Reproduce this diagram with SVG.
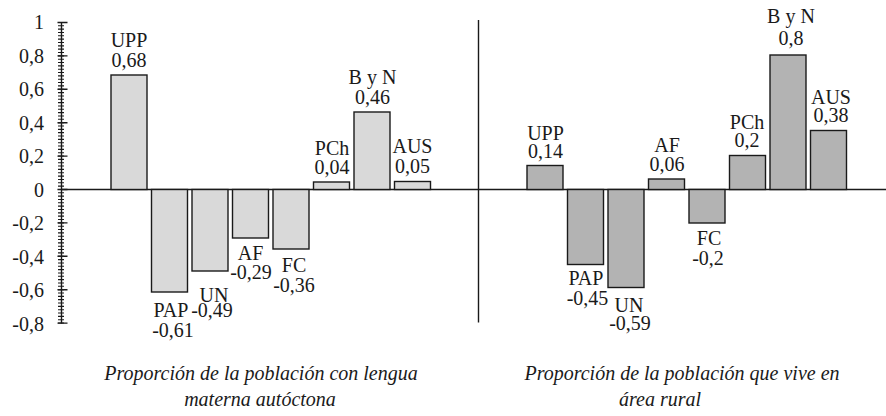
<svg xmlns="http://www.w3.org/2000/svg" width="886" height="416" viewBox="0 0 886 416">
<style>
text{font-family:"Liberation Serif","Times New Roman",serif;font-size:20px;fill:#1a1a1a}
.ax{text-anchor:end}
.lb text{text-anchor:middle}
.cap{font-style:italic;font-size:20px;text-anchor:middle}
.b1{fill:#d9d9d9;stroke:#1a1a1a;stroke-width:1.4}
.b2{fill:#b3b3b3;stroke:#1a1a1a;stroke-width:1.4}
.ln{stroke:#1a1a1a;stroke-width:1.4;fill:none}
</style>
<rect width="886" height="416" fill="#fff"/>
<g id="axis">
<line class="ln" x1="61.5" y1="22" x2="61.5" y2="323.5"/>
<line x1="61" y1="21.9" x2="61" y2="324" stroke="#1a1a1a" stroke-width="6" stroke-dasharray="1.1 2.24"/>
<path class="ln" d="M57.5 22.5h10M57.5 55.9h10M57.5 89.3h10M57.5 122.7h10M57.5 156.1h10M57.5 189.5h10M57.5 222.9h10M57.5 256.3h10M57.5 289.7h10M57.5 323.1h10"/>
<text class="ax" x="44" y="29">1</text>
<text class="ax" x="44" y="62.5">0,8</text>
<text class="ax" x="44" y="96">0,6</text>
<text class="ax" x="44" y="129.5">0,4</text>
<text class="ax" x="44" y="163">0,2</text>
<text class="ax" x="44" y="196.5">0</text>
<text class="ax" x="44" y="230">-0,2</text>
<text class="ax" x="44" y="263.5">-0,4</text>
<text class="ax" x="44" y="297">-0,6</text>
<text class="ax" x="44" y="330.5">-0,8</text>
</g>
<g id="connectors">
<line class="ln" x1="61.5" y1="189.5" x2="886" y2="189.5"/>
<line class="ln" x1="478.5" y1="20" x2="478.5" y2="322.5"/>
</g>
<g id="chart1">
<g id="l-upp"><rect class="b1" x="111" y="75" width="36" height="114.5"/></g>
<g id="l-pap"><rect class="b1" x="151.5" y="189.5" width="36" height="102.5"/></g>
<g id="l-un"><rect class="b1" x="192" y="189.5" width="36" height="81.5"/></g>
<g id="l-af"><rect class="b1" x="232.5" y="189.5" width="36" height="48.5"/></g>
<g id="l-fc"><rect class="b1" x="273" y="189.5" width="36" height="59.5"/></g>
<g id="l-pch"><rect class="b1" x="313.5" y="182" width="36" height="7.5"/></g>
<g id="l-byn"><rect class="b1" x="354" y="112" width="36" height="77.5"/></g>
<g id="l-aus"><rect class="b1" x="394.5" y="181.5" width="36" height="8"/></g>
<g class="lb">
<text x="129" y="46.7">UPP</text><text x="129" y="66.5">0,68</text>
<text x="171" y="317">PAP</text><text x="173" y="336.5">-0,61</text>
<text x="214" y="301.5">UN</text><text x="212" y="317">-0,49</text>
<text x="250.5" y="260">AF</text><text x="251" y="278.5">-0,29</text>
<text x="294" y="272">FC</text><text x="294" y="291.5">-0,36</text>
<text x="332" y="155">PCh</text><text x="332" y="174">0,04</text>
<text x="372.5" y="83.5">B y N</text><text x="372.5" y="103.5">0,46</text>
<text x="412.5" y="153">AUS</text><text x="412.5" y="173">0,05</text>
</g>
<text class="cap" x="261" y="380">Proporción de la población con lengua</text>
<text class="cap" x="260" y="406">materna autóctona</text>
</g>
<g id="chart2">
<g id="r-upp"><rect class="b2" x="527" y="165.5" width="36" height="24"/></g>
<g id="r-pap"><rect class="b2" x="567.5" y="189.5" width="36" height="75"/></g>
<g id="r-un"><rect class="b2" x="608" y="189.5" width="36" height="98"/></g>
<g id="r-af"><rect class="b2" x="648.5" y="179" width="36" height="10.5"/></g>
<g id="r-fc"><rect class="b2" x="689" y="189.5" width="36" height="33.5"/></g>
<g id="r-pch"><rect class="b2" x="729.5" y="155.5" width="36" height="34"/></g>
<g id="r-byn"><rect class="b2" x="770" y="55" width="36" height="134.5"/></g>
<g id="r-aus"><rect class="b2" x="810.5" y="130.5" width="36" height="59"/></g>
<g class="lb">
<text x="545.5" y="139.5">UPP</text><text x="545.5" y="157.5">0,14</text>
<text x="586" y="285">PAP</text><text x="587.5" y="305">-0,45</text>
<text x="629" y="311.5">UN</text><text x="630" y="330">-0,59</text>
<text x="667" y="152">AF</text><text x="667" y="170.5">0,06</text>
<text x="709" y="245">FC</text><text x="708" y="265">-0,2</text>
<text x="747" y="129">PCh</text><text x="747" y="147">0,2</text>
<text x="791" y="23">B y N</text><text x="791" y="45">0,8</text>
<text x="831" y="103.5">AUS</text><text x="831" y="122">0,38</text>
</g>
<text class="cap" x="682" y="380">Proporción de la población que vive en</text>
<text class="cap" x="660" y="406">área rural</text>
</g>
</svg>
